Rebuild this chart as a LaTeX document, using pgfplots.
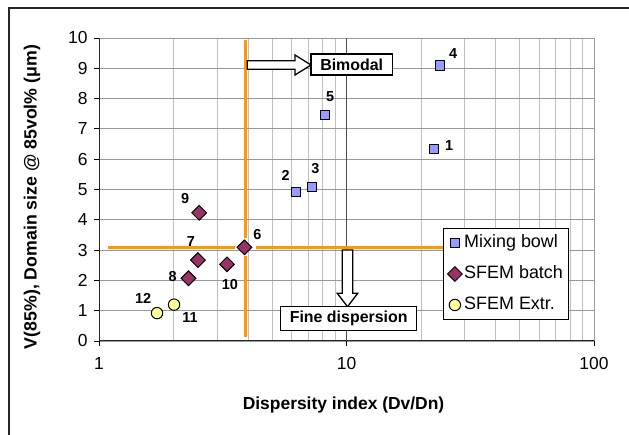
\documentclass[border=0pt]{standalone}
\usepackage{fontspec}
\setmainfont{Liberation Sans}
\usepackage{pgfplots}
\pgfplotsset{compat=1.18}
\definecolor{mixfill}{HTML}{9999FF}
\definecolor{sfemfill}{HTML}{993366}
\definecolor{extrfill}{HTML}{FFFF99}
\definecolor{orng}{HTML}{FF9900}
\pgfplotstableset{col sep=space}
\begin{document}
\begin{tikzpicture}[x=1bp,y=1bp]
\useasboundingbox (0,0) rectangle (629,435);
\draw[line width=1.2bp, black!85] (9,-5) -- (9,427) -- (640,427);
\begin{axis}[
  at={(99bp,94bp)}, anchor=south west, scale only axis,
  width=495bp, height=303bp,
  xmode=log, log basis x=10,
  xmin=1, xmax=100, ymin=0, ymax=10,
  xtick={1,10,100}, xticklabels={1,10,100},
  minor xtick={2,3,4,5,6,7,8,9,20,30,40,50,60,70,80,90},
  ytick={0,1,2,3,4,5,6,7,8,9,10},
  axis lines=left, axis line style={-, black!85, line width=1bp},
  tick align=outside, major tick length=5bp, minor tick length=0pt,
  tick style={black, line width=0.8bp},
  grid=both,
  major grid style={draw=black!40, line width=0.8bp},
  minor grid style={draw=black!25, line width=0.8bp},
  extra x ticks={10}, extra x tick labels={},
  extra x tick style={grid=major, major grid style={draw=black!70, line width=1bp}},
  /pgf/number format/assume math mode=true,
  tick label style={font=\fontsize{17.5}{20}\selectfont},
  xticklabel style={yshift=-8bp},
  yticklabel style={xshift=-3bp},
  xlabel={Dispersity index (Dv/Dn)},
  xlabel style={font=\bfseries\fontsize{17.5}{20}\selectfont, at={(axis description cs:0.494,-0.211)}, anchor=center},
  ylabel={V(85\%), Domain size @ 85vol\% (μm)},
  ylabel style={font=\bfseries\fontsize{17.8}{20}\selectfont, at={(axis description cs:-0.1354,0.475)}, anchor=center},
  legend image code/.code={\draw[mark repeat=2,mark phase=2,#1] plot coordinates {(0bp,0bp) (6bp,0bp) (12bp,0bp)};},
  legend cell align=left,
  legend style={at={(0.695,0.373)}, anchor=north west, draw=black, line width=1bp, fill=white,
    font=\fontsize{18}{20}\selectfont, inner xsep=4bp, inner ysep=4.5bp, row sep=11bp,
    nodes={inner sep=2bp, text height=12.5bp, text depth=3.5bp}},
  clip=false,
]
% orange guide lines
\addplot[orng, line width=3bp, forget plot] coordinates {(1.087,3.1) (3.545,3.1)};
\addplot[orng, line width=3bp, forget plot] coordinates {(4.31,3.1) (25.2,3.1)};
\addplot[orng, line width=3bp, forget plot] coordinates {(3.9,9.93) (3.9,3.40)};
\addplot[orng, line width=3bp, forget plot] coordinates {(3.9,2.81) (3.9,0.14)};

\addplot[only marks, mark=square*, mark size=4.6bp,
  mark options={fill=mixfill, draw=black, line width=1bp},
  nodes near coords, point meta=explicit symbolic,
  visualization depends on={value \thisrow{dx} \as \dx},
  visualization depends on={value \thisrow{dy} \as \dy},
  every node near coord/.append style={anchor=center, xshift=\dx bp, yshift=\dy bp, text=black, inner sep=0pt, font=\bfseries\fontsize{14.5}{16}\selectfont}]
  table[x=x, y=y, meta=lab] {
x y lab dx dy
22.6 6.34 1 15 3
6.23 4.93 2 -10 16
7.28 5.07 3 3 19
23.9 9.09 4 13 12
8.19 7.46 5 5 18
};
\addlegendentry{Mixing bowl}

\addplot[only marks, mark=square*, mark size=5.2bp,
  mark options={fill=sfemfill, draw=black, line width=1bp, rotate=45},
  nodes near coords, point meta=explicit symbolic,
  visualization depends on={value \thisrow{dx} \as \dx},
  visualization depends on={value \thisrow{dy} \as \dy},
  every node near coord/.append style={anchor=center, xshift=\dx bp, yshift=\dy bp, text=black, inner sep=0pt, rotate=0, font=\bfseries\fontsize{14.5}{16}\selectfont}]
  table[x=x, y=y, meta=lab] {
x y lab dx dy
3.87 3.09 6 13 13
2.51 2.67 7 -7 19
2.30 2.07 8 -16 2
2.54 4.23 9 -14 14
3.29 2.53 10 3 -20
};
\addlegendentry{SFEM batch}

\addplot[only marks, mark=*, mark size=5.7bp,
  mark options={fill=extrfill, draw=black, line width=1bp},
  nodes near coords, point meta=explicit symbolic,
  visualization depends on={value \thisrow{dx} \as \dx},
  visualization depends on={value \thisrow{dy} \as \dy},
  every node near coord/.append style={anchor=center, xshift=\dx bp, yshift=\dy bp, text=black, inner sep=0pt, font=\bfseries\fontsize{14.5}{16}\selectfont}]
  table[x=x, y=y, meta=lab] {
x y lab dx dy
2.01 1.20 11 16 -13
1.716 0.92 12 -14 15
};
\addlegendentry{SFEM Extr.}
\end{axis}

% Bimodal arrow and box
\draw[line width=1.3bp, fill=white] (247.3,374.3) -- (295,374.3) -- (295,380) -- (311,370) -- (295,360) -- (295,365.7) -- (247.3,365.7) -- cycle;
\draw[line width=1.5bp, fill=white] (311,360) rectangle (392.3,381);
\node[font=\bfseries\fontsize{16}{18}\selectfont] at (351.7,370.5) {Bimodal};

% Fine dispersion arrow and box
\draw[line width=1.3bp, fill=white] (342.3,185) -- (352.7,185) -- (352.7,141.7) -- (357.7,141.7) -- (347.5,128.3) -- (337.3,141.7) -- (342.3,141.7) -- cycle;
\draw[line width=1.5bp, fill=white] (280.7,104.3) rectangle (416.7,128.3);
\node[font=\bfseries\fontsize{16}{18}\selectfont] at (348.7,116.3) {Fine dispersion};
\end{tikzpicture}
\end{document}
